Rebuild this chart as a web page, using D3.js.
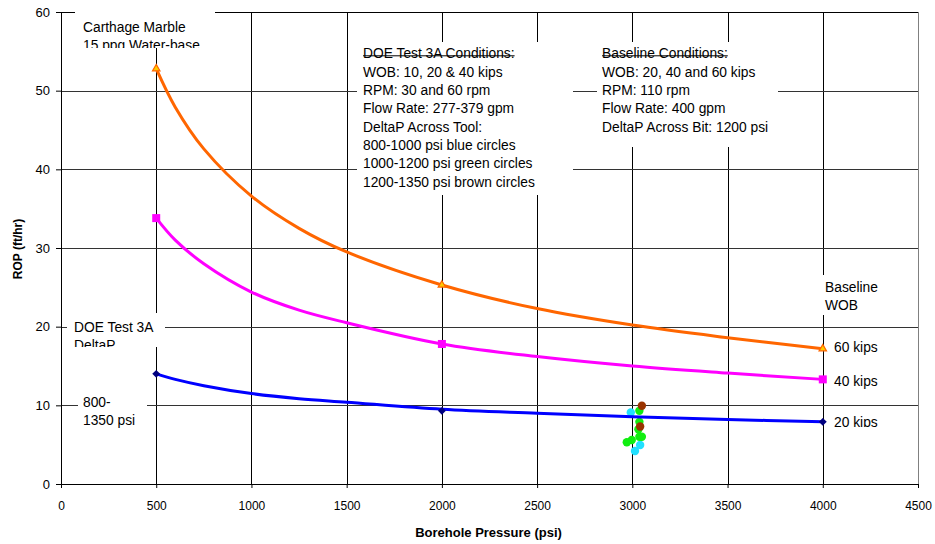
<!DOCTYPE html>
<html>
<head>
<meta charset="utf-8">
<script src="https://cdn.jsdelivr.net/npm/d3@7"></script>
<style>
  body { margin: 0; background: #fff; }
  text { font-family: "Liberation Sans", Arial, sans-serif; fill: #000; }
</style>
</head>
<body>
<svg id="chart" width="935" height="544"></svg>
<script>
var margin = {top: 12, right: 17, bottom: 60, left: 61},
  width = 935 - margin.left - margin.right,
  height = 544 - margin.top - margin.bottom;

// x ticks / y ticks
var xTicks = [0, 500, 1000, 1500, 2000, 2500, 3000, 3500, 4000, 4500];
var yTicks = [0, 10, 20, 30, 40, 50, 60];

// baseline trend curves
var trendX = [500, 600, 750, 1000, 1250, 1500, 2000, 2500, 3000, 3500, 4000];
var wob60 = [52.8, 47.9, 42.6, 36.6, 32.5, 29.5, 25.3, 22.3, 20.2, 18.6, 17.2];
var wob40 = [33.8, 31.0, 28.0, 24.4, 22.1, 20.5, 17.8, 16.2, 15.0, 14.1, 13.3];
var wob20 = [14.0, 13.3, 12.5, 11.5, 10.85, 10.4, 9.5, 9.0, 8.55, 8.2, 7.9];

// baseline measured points
var baseX = [500, 2000, 4000];
var base60 = [52.8, 25.3, 17.2];
var base40 = [33.8, 17.8, 13.3];
var base20 = [14.0, 9.3, 7.9];

// DOE test 3A points
var blueX = [2992, 3041, 3014];
var blueY = [9.1, 4.95, 4.2];
var greenX = [3037, 3037, 3032, 3037, 3050, 2997, 2971];
var greenY = [9.3, 7.9, 6.95, 6.0, 6.0, 5.6, 5.3];
var brownX = [3050, 3041];
var brownY = [9.95, 7.3];

var doeLines = ["DOE Test 3A Conditions:", "WOB: 10, 20 & 40 kips", "RPM: 30 and 60 rpm",
  "Flow Rate: 277-379 gpm", "DeltaP Across Tool:", "800-1000 psi blue circles",
  "1000-1200 psi green circles", "1200-1350 psi brown circles"];
var baseLines = ["Baseline Conditions:", "WOB: 20, 40 and 60 kips", "RPM: 110 rpm",
  "Flow Rate: 400 gpm", "DeltaP Across Bit: 1200 psi"];

var svg = d3.select("#chart");
var g = svg.append("g").attr("transform", "translate(" + margin.left + "," + margin.top + ")");

var x = d3.scaleLinear().domain([0, 4500]).range([0, width]);
var y = d3.scaleLinear().domain([0, 60]).range([height, 0]);

// grid
g.selectAll(".vgrid")
  .data(xTicks.slice(1, -1))
  .join("line")
  .attr("x1", d => Math.round(x(d)) + 0.5).attr("x2", d => Math.round(x(d)) + 0.5)
  .attr("y1", 0).attr("y2", height)
  .attr("stroke", "#000").attr("stroke-width", 1);

g.selectAll(".hgrid")
  .data(yTicks.slice(1))
  .join("line")
  .attr("y1", d => Math.round(y(d)) + 0.5).attr("y2", d => Math.round(y(d)) + 0.5)
  .attr("x1", 0).attr("x2", width)
  .attr("stroke", d => d == 60 ? "#000" : "#333").attr("stroke-width", 1);

g.append("line")
  .attr("x1", width + 0.5).attr("x2", width + 0.5)
  .attr("y1", 0).attr("y2", height)
  .attr("stroke", "#808080");

// axes
var yAxis = d3.axisLeft(y).tickValues(yTicks).tickSize(5).tickPadding(6).tickSizeOuter(0);
var xAxis = d3.axisBottom(x).tickValues(xTicks).tickFormat(d3.format("d"))
  .tickSize(4).tickPadding(13).tickSizeOuter(0);

g.append("g").attr("class", "y axis").call(yAxis)
  .call(a => a.selectAll("text").style("font-size", "13px"));
g.append("g").attr("class", "x axis").attr("transform", "translate(0," + height + ")").call(xAxis)
  .call(a => a.selectAll("text").style("font-size", "12px"));
svg.selectAll(".axis path, .axis line").attr("stroke", "#000");
svg.selectAll(".axis text").attr("fill", "#000").style("font-family", "'Liberation Sans', Arial, sans-serif");

svg.append("text")
  .attr("x", margin.left + width / 2 - 1).attr("y", 537)
  .attr("text-anchor", "middle")
  .style("font-size", "13px").style("font-weight", "bold")
  .text("Borehole Pressure (psi)");

svg.append("text")
  .attr("transform", "translate(22,249) rotate(-90)")
  .attr("text-anchor", "middle")
  .style("font-size", "12px").style("font-weight", "bold")
  .text("ROP (ft/hr)");

// label boxes (white, hide the grid behind them)
var notes = [
  {box: [75, 12, 140, 36], tx: 83, ty: 32, lines: ["Carthage Marble", "15 ppg Water-base"], clip: true},
  {box: [357, 42, 216, 153], tx: 363, ty: 58.3, lines: doeLines, under: true},
  {box: [597, 42, 181, 105], tx: 602, ty: 58.3, lines: baseLines, under: true},
  {box: [820, 275, 75, 40], tx: 825, ty: 292, lines: ["Baseline", "WOB"]},
  {box: [67, 313, 98, 34], tx: 74, ty: 331.5, lines: ["DOE Test 3A", "DeltaP"], clip: true},
  {box: [78, 392, 69, 38], tx: 83, ty: 407, lines: ["800-", "1350 psi"]},
  {box: [830, 336, 70, 20], tx: 834, ty: 351.7, lines: ["60 kips"]},
  {box: [830, 371, 70, 20], tx: 834, ty: 386.3, lines: ["40 kips"]},
  {box: [830, 410, 70, 17], tx: 834, ty: 426.7, lines: ["20 kips"], clip: true}
];

var defs = svg.append("defs");
notes.forEach(function(n, i) {
  var b = svg.append("g");
  b.append("rect")
    .attr("x", n.box[0]).attr("y", n.box[1]).attr("width", n.box[2]).attr("height", n.box[3])
    .attr("fill", "#fff");
  if (n.clip) {
    defs.append("clipPath").attr("id", "clip" + i).append("rect")
      .attr("x", n.box[0]).attr("y", n.box[1]).attr("width", n.box[2]).attr("height", n.box[3]);
    b.attr("clip-path", "url(#clip" + i + ")");
  }
  var t = b.selectAll("text")
    .data(n.lines)
    .join("text")
    .attr("x", n.tx)
    .attr("y", (d, j) => n.ty + j * 18.35)
    .style("font-size", "13.8px")
    .text(d => d);
  if (n.under) {
    var w = t.nodes()[0].getComputedTextLength();
    b.append("line")
      .attr("x1", n.tx).attr("x2", n.tx + w)
      .attr("y1", n.ty - 2.5).attr("y2", n.ty - 2.5)
      .attr("stroke", "#000").attr("stroke-width", 1);
  }
});

// DOE points
var plot = svg.append("g").attr("transform", "translate(" + margin.left + "," + margin.top + ")");
[[blueX, blueY, "#22E0FF"], [greenX, greenY, "#11EE11"], [brownX, brownY, "#993300"]].forEach(function(s) {
  plot.append("g").selectAll("circle")
    .data(s[0])
    .join("circle")
    .attr("cx", d => x(d))
    .attr("cy", (d, i) => y(s[1][i]))
    .attr("r", 4.2)
    .attr("fill", s[2]);
});

// trend curves
var line = d3.line().curve(d3.curveCatmullRom.alpha(0.5))
  .x((d, i) => x(trendX[i]))
  .y(d => y(d));

[[wob60, "#FF6600"], [wob40, "#FF00FF"], [wob20, "#0000FF"]].forEach(function(s) {
  plot.append("path")
    .datum(s[0])
    .attr("d", line)
    .attr("fill", "none")
    .attr("stroke", s[1])
    .attr("stroke-width", 3);
});

// markers
plot.append("g").selectAll("path")
  .data(base60)
  .join("path")
  .attr("transform", (d, i) => "translate(" + x(baseX[i]) + "," + y(d) + ")")
  .attr("d", d3.symbol().type(d3.symbolTriangle).size(24))
  .attr("fill", "#FFCC00")
  .attr("stroke", "#FF6600")
  .attr("stroke-width", 1.2);

plot.append("g").selectAll("rect")
  .data(base40)
  .join("rect")
  .attr("x", (d, i) => x(baseX[i]) - 4)
  .attr("y", d => y(d) - 4)
  .attr("width", 8).attr("height", 8)
  .attr("fill", "#FF00FF");

plot.append("g").selectAll("path")
  .data(base20)
  .join("path")
  .attr("transform", (d, i) => "translate(" + x(baseX[i]) + "," + y(d) + ")")
  .attr("d", d3.symbol().type(d3.symbolDiamond2).size(40))
  .attr("fill", "#000080");
</script>
</body>
</html>
